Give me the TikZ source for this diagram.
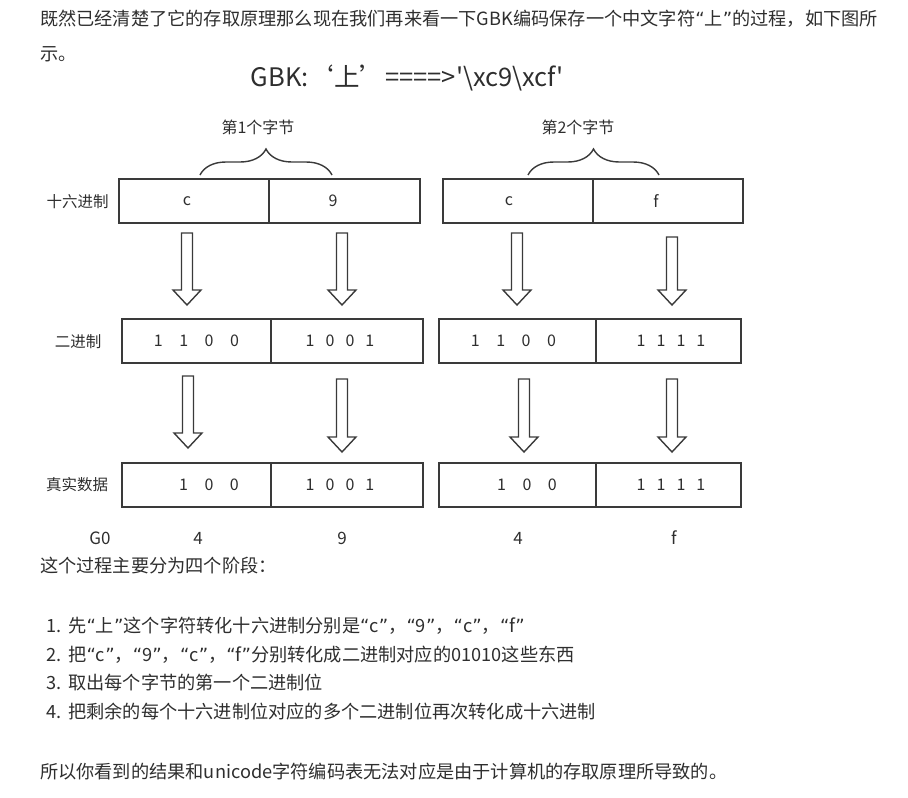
\documentclass[tikz,border=0pt]{standalone}
\usepackage{fontspec}
\setmainfont{Noto Sans CJK SC}
\newfontfamily\quotefont{DejaVu Sans}
\usetikzlibrary{positioning, calc, decorations.pathreplacing}

\definecolor{ink}{HTML}{2E2E2E}
\definecolor{boxline}{HTML}{3A3A3A}

\newcommand{\oq}{{\quotefont “}}
\newcommand{\cq}{{\quotefont ”}}
\newcommand{\bgap}{\hspace{16.5pt}}
\newcommand{\sgap}{\hspace{11pt}}
% hollow block arrow between two named points
\newcommand{\hollowarrow}[2]{%
  \draw[arrowline] let \p1=(#1), \p2=(#2) in
    (\x1-5.5pt,\y1) -- (\x1-5.5pt,\y2+15pt) -- (\x1-14pt,\y2+15pt) -- (\x2,\y2)
    -- (\x1+14pt,\y2+15pt) -- (\x1+5.5pt,\y2+15pt) -- (\x1+5.5pt,\y1) -- cycle;}

\tikzset{
  cell/.style={draw=boxline, line width=1.8pt, inner sep=0pt, outer sep=0pt, minimum height=44},
  body/.style={anchor=west, inner sep=0pt, text=ink, font=\fontsize{18.2}{22}\selectfont},
  title/.style={inner sep=0pt, text=ink, font=\fontsize{25.5}{30}\selectfont},
  bytelabel/.style={inner sep=0pt, text=ink, font=\fontsize{16}{19}\selectfont},
  rowlabel/.style={inner sep=0pt, text=ink, font=\fontsize{15.5}{18}\selectfont},
  digits/.style={inner sep=0pt, text=ink, font=\fontsize{16}{19}\selectfont},
  value/.style={inner sep=0pt, text=ink, font=\fontsize{17}{20}\selectfont},
  arrowline/.style={draw=boxline, line width=1.4pt, line join=miter},
  bytebrace/.style={draw=boxline, line width=1.4pt, decorate, decoration={brace, amplitude=26pt}},
}

\begin{document}
\begin{tikzpicture}[x=1pt,y=-1pt]
  \useasboundingbox (0,0) rectangle (908,798);
  % Text above the diagram
  \node[body] (para1) at (40,19) {既然已经清楚了它的存取原理那么现在我们再来看一下GBK编码保存一个中文字符\oq 上\cq 的过程，如下图所};
  \node[body] (para2) at (40,54) {示。};
  \node[title] (gbk) at (407,78) {GBK:‘上’====>\textquotesingle\textbackslash xc9\textbackslash xcf\textquotesingle};

  % Bytes and braces
  \node[bytelabel] (byte1) at (258,127) {第1个字节};
  \node[bytelabel] (byte2) at (578,127) {第2个字节};
  \draw[bytebrace] (200,175) -- (332,175);
  \draw[bytebrace] (528,175) -- (659,175);

  % Row labels
  \node[rowlabel] (hexlabel) at (77.5,202) {十六进制};
  \node[rowlabel] (binlabel) at (78,342) {二进制};
  \node[rowlabel] (reallabel) at (77,485) {真实数据};

  % Boxes
  \node[cell, minimum width=150, anchor=north west] (hexA) at (119,179) {};
  \node[cell, minimum width=151, right=0pt of hexA] (hexB) {};
  \node[cell, minimum width=150, anchor=north west] (hexC) at (443,179) {};
  \node[cell, minimum width=150, right=0pt of hexC] (hexD) {};
  \node[cell, minimum width=149, anchor=north west] (binA) at (122,319) {};
  \node[cell, minimum width=152, right=0pt of binA] (binB) {};
  \node[cell, minimum width=157, anchor=north west] (binC) at (439,319) {};
  \node[cell, minimum width=145, right=0pt of binC] (binD) {};
  \node[cell, minimum width=149, anchor=north west] (realA) at (122,463) {};
  \node[cell, minimum width=152, right=0pt of realA] (realB) {};
  \node[cell, minimum width=157, anchor=north west] (realC) at (439,463) {};
  \node[cell, minimum width=145, right=0pt of realC] (realD) {};

  % Values in the boxes
  \node[digits] (hexvA) at (187,201) {c};
  \node[digits] (hexvB) at (333,201) {9};
  \node[digits] (hexvC) at (509,201) {c};
  \node[digits] (hexvD) at (656,201) {f};
  \node[digits] (binvA) at (196.5,341) {1\bgap1\bgap0\bgap0};
  \node[digits] (binvB) at (340,341) {1\sgap0\sgap0\sgap1};
  \node[digits] (binvC) at (513.5,341) {1\bgap1\bgap0\bgap0};
  \node[digits] (binvD) at (671,341) {1\sgap1\sgap1\sgap1};
  \node[digits] (realvA) at (209,485) {1\bgap0\bgap0};
  \node[digits] (realvB) at (340,485) {1\sgap0\sgap0\sgap1};
  \node[digits] (realvC) at (527,485) {1\bgap0\bgap0};
  \node[digits] (realvD) at (671,485) {1\sgap1\sgap1\sgap1};

  % Arrows
  \foreach \k/\x/\a/\b in {1/187/233/305, 2/342/233/305, 3/517/233/305, 4/672/237/305,
                           5/188/376/448, 6/342/379/452, 7/524/379/452, 8/672/379/452}{
    \coordinate (from\k) at (\x,\a);
    \coordinate (to\k) at (\x,\b);
    \hollowarrow{from\k}{to\k}
  }

  % Result
  \node[value] (g0) at (100,538) {G0};
  \node[value] (resA) at (198,538) {4};
  \node[value] (resB) at (342,538) {9};
  \node[value] (resC) at (518,538) {4};
  \node[value] (resD) at (674,538) {f};

  % Text below the diagram
  \node[body] (steps) at (40,566) {这个过程主要分为四个阶段：};
  \node[body] (step1) at (46,626) {1.\hspace{7pt}先\oq 上\cq 这个字符转化十六进制分别是\oq c\cq ，\oq 9\cq ，\oq c\cq ，\oq f\cq};
  \node[body] (step2) at (46,655) {2.\hspace{7pt}把\oq c\cq ，\oq 9\cq ，\oq c\cq ，\oq f\cq 分别转化成二进制对应的01010这些东西};
  \node[body] (step3) at (46,683) {3.\hspace{7pt}取出每个字节的第一个二进制位};
  \node[body] (step4) at (46,712) {4.\hspace{7pt}把剩余的每个十六进制位对应的多个二进制位再次转化成十六进制};
  \node[body] (summary) at (40,772) {所以你看到的结果和unicode字符编码表无法对应是由于计算机的存取原理所导致的。};
\end{tikzpicture}
\end{document}
